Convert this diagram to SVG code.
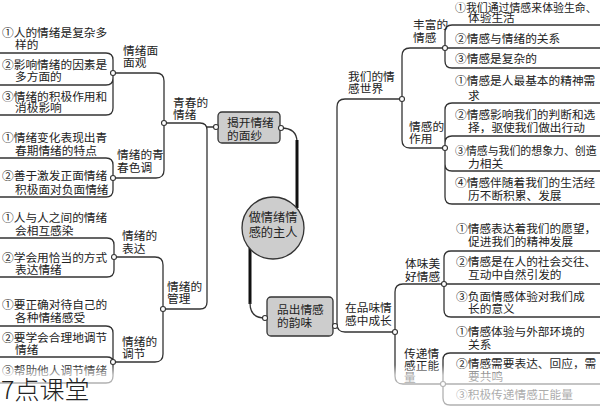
<svg xmlns="http://www.w3.org/2000/svg" width="600" height="409" viewBox="0 0 600 409">
<style>
  text { font-family: "Noto Sans CJK SC", "Noto Sans", sans-serif; font-size: 11.7px; fill: #222; }
  .sm { font-size: 10.9px; }
  .ln { fill: none; stroke: #333; stroke-width: 1.3; stroke-linecap: round; }
  .thick { fill: none; stroke: #111; stroke-width: 3; }
  .dot { fill: #fff; stroke: #333; stroke-width: 1.1; }
  .box { fill: #cdcdcd; stroke: #333; stroke-width: 1.3; }
  .ctr { text-anchor: middle; font-size: 12.2px; }
  .wm { font-size: 25px; font-weight: 300; fill: #222; }
</style>
<defs>
  <linearGradient id="fade" gradientUnits="userSpaceOnUse" x1="0" y1="365" x2="0" y2="375">
    <stop offset="0" stop-color="#fff" stop-opacity="0"/>
    <stop offset="1" stop-color="#fff" stop-opacity="0.62"/>
  </linearGradient>
</defs>
<rect width="600" height="409" fill="#fff"/>

<g id="connectors">
  <path class="ln" d="M0,53 H106 Q113,53 113,60 V108 Q113,115 106,115 H0 M0,85 H106 Q113,85 113,78 V73"/>
  <path class="ln" d="M0,158 H106 Q113,158 113,165 V190 Q113,197 106,197 H0"/>
  <path class="ln" d="M0,238 H107 Q114,238 114,245 V270 Q114,277 107,277 H0"/>
  <path class="ln" d="M0,326 H106 Q113,326 113,333 V376 Q113,383 106,383 H0 M0,357 H107 Q113,357 113,362"/>
  <path class="ln" d="M113,73 H156 Q164,73 164,81 V170 Q164,178 156,178 H113"/>
  <path class="ln" d="M164,123 H200 Q207,123 207,130 V302 Q207,309 200,309 H163 M207,127 H216"/>
  <path class="ln" d="M114,257 H155 Q163,257 163,265 V354 Q163,362 155,362 H113"/>
  <path class="ln" d="M281,128 Q297,128 297,142"/>
  <path class="thick" d="M297,140 V208"/>
  <path class="thick" d="M250,248 V304"/>
  <path class="ln" d="M250,303 Q250,318 265,318"/>
  <path class="ln" d="M401,99 H345 Q337,99 337,107 V324 Q337,332 345,332 H395"/>
  <path class="ln" d="M445,48 H410 Q402,48 402,56 V140 Q402,148 410,148 H445"/>
  <path class="ln" d="M444,284 H403 Q395,284 395,292 V376 Q395,384 403,384 H443"/>
  <path class="ln" d="M600,25 H452 Q445,25 445,32 V61 Q445,68 452,68 H600 M445,48 H600"/>
  <path class="ln" d="M600,103 H452 Q445,103 445,110 V197 Q445,204 452,204 H600 M600,136 H452 Q445,136 445,143 M600,171 H452 Q445,171 445,164"/>
  <path class="ln" d="M600,251 H451 Q444,251 444,258 V310 Q444,317 451,317 H600 M444,284 H600"/>
  <path class="ln" d="M600,353 H450 Q443,353 443,360 V398 Q443,405 450,405 H600 M443,384 H600"/>
</g>

<g id="root">
  <circle cx="273" cy="228" r="31" class="box"/>
  <text class="ctr" x="273" y="222">做情绪情</text>
  <text class="ctr" x="273" y="237">感的主人</text>
</g>

<g id="n-jiekai">
  <rect x="218" y="112" width="62" height="31" rx="4" class="box"/>
  <text x="227" y="127">揭开情绪</text>
  <text x="227" y="140">的面纱</text>
  <circle cx="216" cy="127" r="2.5" class="dot"/>
  <circle cx="281" cy="128" r="2.5" class="dot"/>
</g>

<g id="n-pinchu">
  <rect x="267" y="297" width="66" height="39" rx="4" class="box"/>
  <text x="277" y="314">品出情感</text>
  <text x="277" y="327">的韵味</text>
  <circle cx="265" cy="318" r="2.5" class="dot"/>
  <circle cx="335" cy="326" r="2.5" class="dot"/>
</g>

<g id="n-qingchun">
  <text x="173" y="107">青春的</text>
  <text x="173" y="119">情绪</text>
  <circle cx="164" cy="123" r="2.5" class="dot"/>
</g>
<g id="n-guanli">
  <text x="167" y="291">情绪的</text>
  <text x="167" y="303">管理</text>
  <circle cx="163" cy="309" r="2.5" class="dot"/>
</g>

<g id="n-mianmianguan">
  <text x="123" y="55">情绪面</text>
  <text x="123" y="67">面观</text>
  <circle cx="113" cy="73" r="2.5" class="dot"/>
  <text x="2" y="37">①人的情绪是复杂多</text>
  <text x="15" y="49">样的</text>
  <text x="2" y="69">②影响情绪的因素是</text>
  <text x="15" y="81">多方面的</text>
  <text x="2" y="101">③情绪的积极作用和</text>
  <text x="15" y="112">消极影响</text>
</g>

<g id="n-seidiao">
  <text x="117" y="159">情绪的青</text>
  <text x="117" y="172">春色调</text>
  <circle cx="113" cy="178" r="2.5" class="dot"/>
  <text x="2" y="142">①情绪变化表现出青</text>
  <text x="15" y="155">春期情绪的特点</text>
  <text x="2" y="180">②善于激发正面情绪</text>
  <text x="15" y="194">积极面对负面情绪</text>
</g>

<g id="n-biaoda">
  <text x="122" y="240">情绪的</text>
  <text x="122" y="253">表达</text>
  <circle cx="114" cy="257" r="2.5" class="dot"/>
  <text x="2" y="222">①人与人之间的情绪</text>
  <text x="15" y="235">会相互感染</text>
  <text x="2" y="262">②学会用恰当的方式</text>
  <text x="15" y="274">表达情绪</text>
</g>

<g id="n-tiaojie">
  <text x="122" y="346">情绪的</text>
  <text x="122" y="358">调节</text>
  <circle cx="113" cy="362" r="2.5" class="dot"/>
  <text x="2" y="309">①要正确对待自己的</text>
  <text x="15" y="322">各种情绪感受</text>
  <text x="2" y="342">②要学会合理地调节</text>
  <text x="15" y="354">情绪</text>
  <text x="2" y="375">③帮助他人调节情绪</text>
</g>

<g id="n-shijie">
  <text x="348" y="81">我们的情</text>
  <text x="348" y="93">感世界</text>
  <circle cx="402" cy="99" r="2.5" class="dot"/>
</g>
<g id="n-chengzhang">
  <text x="345" y="312">在品味情</text>
  <text x="345" y="325">感中成长</text>
  <circle cx="395" cy="332" r="2.5" class="dot"/>
</g>

<g id="n-fengfu">
  <text x="413" y="29">丰富的</text>
  <text x="413" y="42">情感</text>
  <circle cx="445" cy="48" r="2.5" class="dot"/>
  <text class="sm" x="455" y="12">①我们通过情感来体验生命、</text>
  <text x="468" y="22">体验生活</text>
  <text x="455" y="43">②情感与情绪的关系</text>
  <text x="455" y="63">③情感是复杂的</text>
</g>

<g id="n-zuoyong">
  <text x="409" y="131">情感的</text>
  <text x="409" y="143">作用</text>
  <circle cx="445" cy="148" r="2.5" class="dot"/>
  <text x="455" y="85">①情感是人最基本的精神需</text>
  <text x="468" y="100">求</text>
  <text x="455" y="119">②情感影响我们的判断和选</text>
  <text x="468" y="132">择，驱使我们做出行动</text>
  <text class="sm" x="455" y="155">③情感与我们的想象力、创造</text>
  <text x="468" y="168">力相关</text>
  <text x="455" y="187">④情感伴随着我们的生活经</text>
  <text x="468" y="200">历不断积累、发展</text>
</g>

<g id="n-tiwei">
  <text x="405" y="268">体味美</text>
  <text x="405" y="281">好情感</text>
  <circle cx="444" cy="284" r="2.5" class="dot"/>
  <text x="456" y="233">①情感表达着我们的愿望，</text>
  <text x="468" y="246">促进我们的精神发展</text>
  <text x="456" y="266">②情感是在人的社会交往、</text>
  <text x="468" y="279">互动中自然引发的</text>
  <text x="456" y="301">③负面情感体验对我们成</text>
  <text x="468" y="313">长的意义</text>
</g>

<g id="n-chuandi">
  <text x="404" y="358">传递情</text>
  <text x="404" y="370">感正能</text>
  <text x="404" y="382">量</text>
  <circle cx="443" cy="384" r="2.5" class="dot"/>
  <text x="456" y="336">①情感体验与外部环境的</text>
  <text x="468" y="349">关系</text>
  <text x="456" y="368">②情感需要表达、回应，需</text>
  <text x="468" y="381">要共鸣</text>
  <text x="456" y="399">③积极传递情感正能量</text>
</g>

<rect x="0" y="364" width="600" height="45" fill="url(#fade)"/>
<text class="wm" x="1" y="399">7点课堂</text>
</svg>
